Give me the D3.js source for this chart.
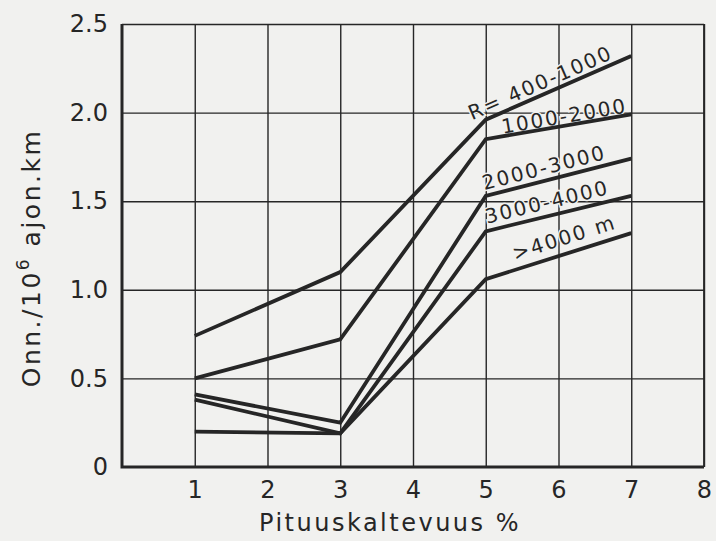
<!DOCTYPE html>
<html>
<head>
<meta charset="utf-8">
<script src="https://cdn.jsdelivr.net/npm/d3@7"></script>
<style>
  body { margin: 0; background: #f1f1ef; }
  svg { display: block; }
</style>
</head>
<body>
<svg id="chart"></svg>
<script>
// slope categories (x) and accident rates per curve radius class
const slopes = [1, 3, 5, 7];
const seriesNames = ['R= 400-1000', '1000-2000', '2000-3000', '3000-4000', '>4000 m'];
const r400 = [0.74, 1.10, 1.96, 2.32];
const r1000 = [0.50, 0.72, 1.85, 1.99];
const r2000 = [0.41, 0.25, 1.53, 1.74];
const r3000 = [0.38, 0.19, 1.33, 1.53];
const r4000 = [0.20, 0.19, 1.06, 1.32];
const xTicks = [1, 2, 3, 4, 5, 6, 7, 8];
const yTicks = [0, 0.5, 1, 1.5, 2, 2.5];
const yTickLabels = ['0', '0.5', '1.0', '1.5', '2.0', '2.5'];

// label placement along the 5..7 segment (fraction t, offset d in px)
const labelLayout = [
  { t: -0.08, d: 5 },
  { t: 0.12, d: 2.5 },
  { t: 0.0, d: 6 },
  { t: 0.02, d: 7 },
  { t: 0.22, d: 9 }
];

const W = 716, H = 541;
const ink = '#262626';
const bg = '#f1f1ef';
const font = '"DejaVu Sans", sans-serif';

const svg = d3.select('#chart').attr('width', W).attr('height', H);

const x = d3.scaleLinear().domain([0, 8]).range([122, 704]);
const y = d3.scaleLinear().domain([0, 2.5]).range([467, 24]);

// vertical grid
const xAxisGrid = svg.append('g')
  .attr('transform', `translate(0,${y(0)})`)
  .call(d3.axisBottom(x).tickValues(xTicks).tickSize(-(y(0) - y(2.5))).tickFormat(''));
xAxisGrid.select('.domain').remove();
xAxisGrid.selectAll('line').attr('stroke', ink).attr('stroke-width', 1.4);

// horizontal grid
const yAxisGrid = svg.append('g')
  .attr('transform', `translate(${x(0)},0)`)
  .call(d3.axisLeft(y).tickValues(yTicks.slice(1)).tickSize(-(x(8) - x(0))).tickFormat(''));
yAxisGrid.select('.domain').remove();
yAxisGrid.selectAll('line').attr('stroke', ink).attr('stroke-width', 1.4);

// right border
svg.append('line')
  .attr('x1', x(8)).attr('x2', x(8)).attr('y1', y(2.5)).attr('y2', y(0))
  .attr('stroke', ink).attr('stroke-width', 1.8);

// tick labels
const xAxis = svg.append('g')
  .attr('transform', `translate(0,${y(0)})`)
  .call(d3.axisBottom(x).tickValues(xTicks).tickSize(0).tickPadding(14));
xAxis.select('.domain').remove();
xAxis.selectAll('text')
  .attr('font-family', font).attr('font-size', 24).attr('fill', ink)
  .attr('dy', '0.72em');

const yAxis = svg.append('g')
  .attr('transform', `translate(${x(0)},0)`)
  .call(d3.axisLeft(y).tickValues(yTicks).tickSize(0).tickPadding(14)
    .tickFormat((d, i) => yTickLabels[i]));
yAxis.select('.domain').remove();
yAxis.selectAll('text')
  .attr('font-family', font).attr('font-size', 24).attr('fill', ink);

// heavy left and bottom axis lines
svg.append('path')
  .attr('d', `M${x(0)},${y(2.5)}V${y(0)}H${x(8)}`)
  .attr('fill', 'none').attr('stroke', ink).attr('stroke-width', 3);

const allSeries = [r400, r1000, r2000, r3000, r4000];

// series labels along the last segment (drawn under the lines)
allSeries.forEach((vals, i) => {
  const x0 = x(slopes[2]), y0 = y(vals[2]);
  const x1 = x(slopes[3]), y1 = y(vals[3]);
  const ang = Math.atan2(y1 - y0, x1 - x0);
  const lay = labelLayout[i];
  const px = x0 + lay.t * (x1 - x0) + Math.sin(ang) * lay.d;
  const py = y0 + lay.t * (y1 - y0) - Math.cos(ang) * lay.d;
  svg.append('text')
    .attr('transform', `translate(${px},${py}) rotate(${ang * 180 / Math.PI})`)
    .attr('font-family', font)
    .attr('font-size', 20)
    .attr('letter-spacing', 2)
    .attr('fill', ink)
    .attr('stroke', bg)
    .attr('stroke-width', 3)
    .attr('paint-order', 'stroke')
    .text(seriesNames[i]);
});

// data lines
const line = d3.line().x((d, i) => x(slopes[i])).y(d => y(d));

svg.append('g').selectAll('path')
  .data(allSeries)
  .join('path')
  .attr('d', line)
  .attr('fill', 'none')
  .attr('stroke', ink)
  .attr('stroke-width', 3.8)
  .attr('stroke-linejoin', 'miter');

// axis titles
svg.append('text')
  .attr('x', 390).attr('y', 531)
  .attr('text-anchor', 'middle')
  .attr('font-family', font).attr('font-size', 24)
  .attr('letter-spacing', 2.5)
  .attr('fill', ink)
  .text('Pituuskaltevuus %');

const yTitle = svg.append('text')
  .attr('transform', 'translate(40,258) rotate(-90)')
  .attr('text-anchor', 'middle')
  .attr('font-family', font).attr('font-size', 25)
  .attr('letter-spacing', 2.5)
  .attr('fill', ink);
yTitle.append('tspan').text('Onn./10');
yTitle.append('tspan').attr('dy', -11).attr('font-size', 17).text('6');
yTitle.append('tspan').attr('dy', 11).text(' ajon.km');
</script>
</body>
</html>
